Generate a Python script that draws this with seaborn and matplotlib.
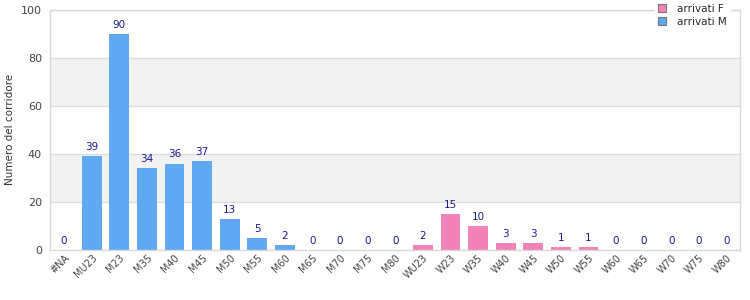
import numpy as np
import pandas as pd
import matplotlib
matplotlib.use("Agg")
import matplotlib.pyplot as plt
import seaborn as sns

# categories and counts
cat_m = ['#NA', 'MU23', 'M23', 'M35', 'M40', 'M45', 'M50', 'M55', 'M60',
         'M65', 'M70', 'M75', 'M80']
val_m = [0, 39, 90, 34, 36, 37, 13, 5, 2, 0, 0, 0, 0]
cat_f = ['WU23', 'W23', 'W35', 'W40', 'W45', 'W50', 'W55', 'W60', 'W65',
         'W70', 'W75', 'W80']
val_f = [2, 15, 10, 3, 3, 1, 1, 0, 0, 0, 0, 0]

df = pd.DataFrame({
    'cat': cat_m + cat_f,
    'n': val_m + val_f,
    'serie': ['arrivati M'] * len(cat_m) + ['arrivati F'] * len(cat_f),
})

sns.set_style('white')
plt.rcParams['font.family'] = ['DejaVu Sans']

fig, ax = plt.subplots(figsize=(7.5, 3), dpi=100)
fig.subplots_adjust(left=0.067, right=0.987, top=0.967, bottom=0.167)

# alternating horizontal bands
for lo in (20, 60):
    ax.axhspan(lo, lo + 20, color='#f2f2f2', zorder=0, lw=0)
for y in (20, 40, 60, 80, 100):
    ax.axhline(y, color='#dddddd', lw=1, zorder=0.5)

pal = {'arrivati F': '#f283b8', 'arrivati M': '#5fa8f2'}
sns.barplot(data=df, x='cat', y='n', hue='serie', hue_order=['arrivati F', 'arrivati M'],
            order=cat_m + cat_f, palette=pal, dodge=False, width=0.72,
            saturation=1, linewidth=0, ax=ax, zorder=2)

for cont in ax.containers:
    ax.bar_label(cont, fmt='%d', padding=3, fontsize=7.5, color='#1a1a8c')

ax.set_ylim(0, 100)
ax.set_xlim(-0.5, len(df) - 0.5)
ax.set_yticks([0, 20, 40, 60, 80, 100])
ax.set_xlabel('')
ax.set_ylabel('Numero del corridore', fontsize=7.5, color='#333333')
ax.tick_params(axis='y', labelsize=8, colors='#444444', length=0, pad=6)
ax.tick_params(axis='x', labelsize=7, colors='#444444', length=0, pad=2)
plt.setp(ax.get_xticklabels(), rotation=45, ha='right', rotation_mode='anchor')

for s in ax.spines.values():
    s.set_color('#d8d8d8')
    s.set_linewidth(1)

leg = ax.legend(loc='upper right', bbox_to_anchor=(0.992, 1.06), frameon=True,
                fontsize=7.5, handlelength=0.8, handleheight=0.8,
                borderpad=0.3, labelspacing=0.3, handletextpad=1.0)
leg.get_frame().set_edgecolor('white')
leg.get_frame().set_alpha(1)
for h in leg.legend_handles:
    h.set_edgecolor('#777777')
    h.set_linewidth(0.8)

fig.savefig('out.png', dpi=100)
